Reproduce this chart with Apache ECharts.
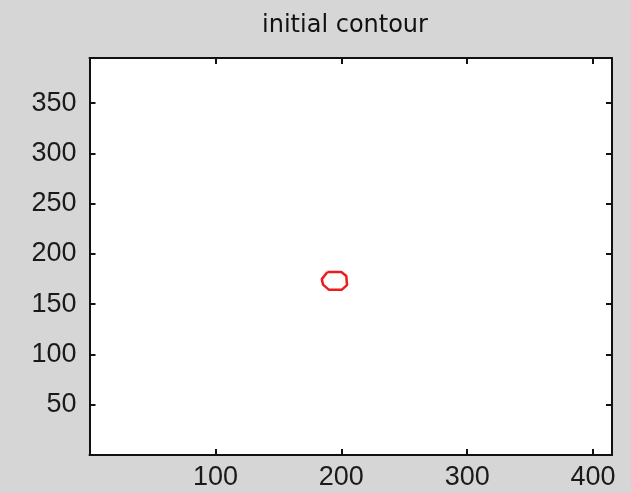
<!DOCTYPE html>
<html>
<head>
<meta charset="utf-8">
<script src="https://cdn.jsdelivr.net/npm/echarts@6/dist/echarts.min.js"></script>
<style>
html,body{margin:0;padding:0;background:#d6d6d6;}
#c{width:631px;height:493px;}
</style>
</head>
<body>
<div id="c"></div>
<script>
var titleText = 'initial contour';
var xTicks = [100, 200, 300, 400];
var yTicks = [50, 100, 150, 200, 250, 300, 350];
var contourX = [189, 200, 204, 204.5, 200.5, 190, 185.5, 184.5, 189];
var contourY = [182, 182, 178, 169, 164.5, 164.5, 169.5, 175, 182];

var contourData = contourX.map(function (x, i) { return [x, contourY[i]]; });

var chart = echarts.init(document.getElementById('c'), null, {renderer: 'canvas'});
var lineStyle = {color: '#111', width: 2};
function fmt(list) {
  return function (v) { return list.indexOf(v) >= 0 ? String(v) : ''; };
}
var labelStyle = {fontFamily: 'Liberation Sans', fontSize: 27, color: '#1a1a1a'};
chart.setOption({
  backgroundColor: '#d6d6d6',
  animation: false,
  title: {
    text: titleText,
    left: 340, top: 9, textAlign: 'center',
    textStyle: {fontFamily: 'DejaVu Sans', fontSize: 24, fontWeight: 'normal', color: '#111'}
  },
  grid: {left: 89.5, right: 19, top: 58, bottom: 38, show: true, backgroundColor: '#fff', borderWidth: 0},
  xAxis: [{
    type: 'value', min: 0, max: 415, interval: 100, position: 'bottom',
    axisLine: {show: true, onZero: false, lineStyle: lineStyle},
    axisTick: {show: true, inside: true, length: 6, lineStyle: lineStyle},
    axisLabel: Object.assign({margin: 9, formatter: fmt(xTicks)}, labelStyle),
    splitLine: {show: false}
  }, {
    type: 'value', min: 0, max: 415, interval: 100, position: 'top',
    axisLine: {show: true, onZero: false, lineStyle: lineStyle},
    axisTick: {show: true, inside: true, length: 6, lineStyle: lineStyle},
    axisLabel: {show: false},
    splitLine: {show: false}
  }],
  yAxis: [{
    type: 'value', min: 0, max: 395, interval: 50, position: 'left',
    axisLine: {show: true, onZero: false, lineStyle: lineStyle},
    axisTick: {show: true, inside: true, length: 6, lineStyle: lineStyle},
    axisLabel: Object.assign({margin: 13, formatter: fmt(yTicks)}, labelStyle),
    splitLine: {show: false}
  }, {
    type: 'value', min: 0, max: 395, interval: 50, position: 'right',
    axisLine: {show: true, onZero: false, lineStyle: lineStyle},
    axisTick: {show: true, inside: true, length: 6, lineStyle: lineStyle},
    axisLabel: {show: false},
    splitLine: {show: false}
  }],
  series: [{
    type: 'line',
    xAxisIndex: 0, yAxisIndex: 0,
    data: contourData,
    showSymbol: false,
    smooth: false,
    lineStyle: {color: '#ee1c1c', width: 2.5},
    silent: true
  }]
});
</script>
</body>
</html>
